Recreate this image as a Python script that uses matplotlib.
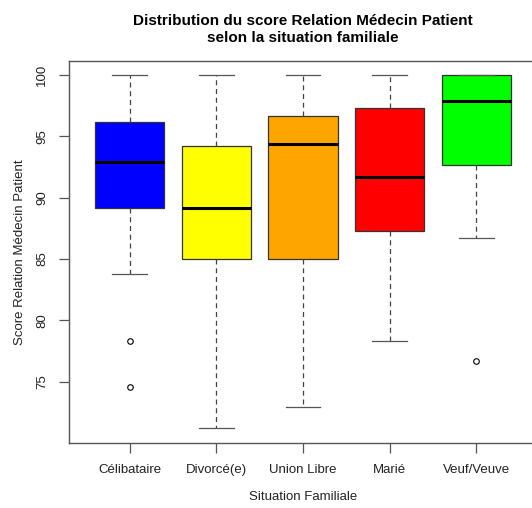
import matplotlib.pyplot as plt

plt.rcParams['font.family'] = ['Liberation Sans', 'DejaVu Sans']

categories = ['Célibataire', 'Divorcé(e)', 'Union Libre', 'Marié', 'Veuf/Veuve']
colors = ['#0000ff', '#ffff00', '#ffa500', '#ff0000', '#00ff00']
whisker_low = [83.8, 71.2, 72.9, 78.3, 86.7]
q1 = [89.2, 85.0, 85.0, 87.3, 92.7]
medians = [92.9, 89.2, 94.4, 91.7, 97.9]
q3 = [96.2, 94.2, 96.7, 97.3, 100.0]
whisker_high = [100.0, 100.0, 100.0, 100.0, 100.0]
outliers = [[78.3, 74.6], [], [], [], [76.7]]

stats = []
for i in range(len(categories)):
    stats.append({'whislo': whisker_low[i], 'q1': q1[i], 'med': medians[i],
                  'q3': q3[i], 'whishi': whisker_high[i], 'fliers': outliers[i],
                  'label': categories[i]})

fig = plt.figure(figsize=(5.32, 5.08), dpi=100)
ax = fig.add_axes([69/532, 1 - 443/508, 468/532, 382/508])

bp = ax.bxp(stats, positions=range(1, 6), widths=0.8, patch_artist=True,
            boxprops=dict(edgecolor='#333333', linewidth=0.9),
            medianprops=dict(color='black', linewidth=2.2),
            whiskerprops=dict(color='#444444', linestyle=(0, (4, 3)), linewidth=0.9),
            capprops=dict(color='#555555', linewidth=0.9),
            capwidths=0.4,
            flierprops=dict(marker='o', markersize=4, markerfacecolor='none',
                            markeredgecolor='black', markeredgewidth=0.8))
for patch, c in zip(bp['boxes'], colors):
    patch.set_facecolor(c)

ax.set_xlim(0.3, 5.7)
ax.set_ylim(70.0, 101.15)
ax.set_yticks([75, 80, 85, 90, 95, 100])
ax.set_yticklabels(['75', '80', '85', '90', '95', '100'], rotation=90, va='center')
for sp in ax.spines.values():
    sp.set_color('#555555')
    sp.set_linewidth(1.0)
ax.tick_params(axis='both', length=7, width=0.9, color='#555555', labelsize=9.5, labelcolor='#222222', pad=8)

ax.set_xlabel('Situation Familiale', fontsize=9.5, labelpad=11, color='#222222')
ax.set_ylabel('Score Relation Médecin Patient', fontsize=9.5, labelpad=7, color='#222222')
ax.set_title('Distribution du score Relation Médecin Patient\nselon la situation familiale',
             fontsize=11, fontweight='bold', pad=14, linespacing=1.25)

fig.savefig('out.png', dpi=100)
